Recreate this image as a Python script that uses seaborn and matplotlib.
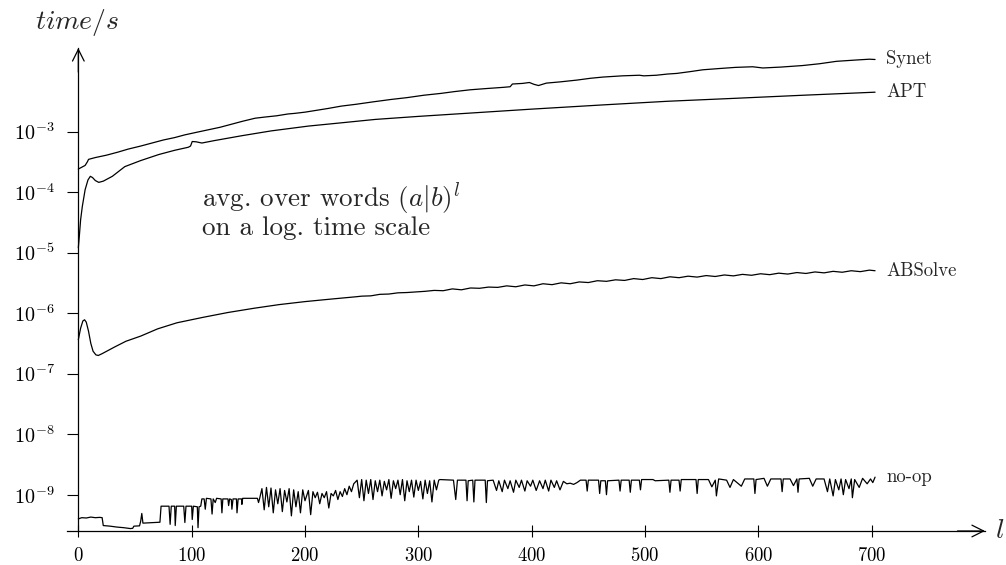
import numpy as np
import pandas as pd
import matplotlib
matplotlib.use("Agg")
import matplotlib.pyplot as plt
from matplotlib.ticker import NullLocator, FixedLocator
import seaborn as sns

# word length l and log10(time/s)
synet_l = [0, 3, 6, 8, 9, 15, 25, 35, 44, 55, 65, 75, 85, 94, 105, 115, 125, 135, 145, 156,
           165, 175, 185, 191, 200, 210, 220, 232, 245, 260, 276, 290, 305, 320, 332, 346,
           360, 375, 381, 383, 392, 398, 402, 406, 413, 425, 440, 452, 463, 480, 495, 499,
           510, 520, 528, 540, 551, 565, 580, 595, 604, 620, 639, 654, 669, 685, 698, 703]
synet_e = [-3.62, -3.59, -3.56, -3.50, -3.46, -3.43, -3.39, -3.34, -3.29, -3.24, -3.19, -3.14,
           -3.10, -3.055, -3.01, -2.97, -2.93, -2.88, -2.83, -2.78, -2.76, -2.74, -2.71, -2.70,
           -2.68, -2.65, -2.62, -2.58, -2.55, -2.51, -2.47, -2.44, -2.40, -2.37, -2.34, -2.31,
           -2.29, -2.27, -2.26, -2.215, -2.205, -2.19, -2.22, -2.24, -2.20, -2.18, -2.15, -2.12,
           -2.10, -2.08, -2.07, -2.08, -2.07, -2.05, -2.04, -2.01, -1.98, -1.96, -1.94, -1.93,
           -1.95, -1.935, -1.91, -1.88, -1.84, -1.82, -1.805, -1.81]

apt_l = [0, 1, 2, 3.5, 6, 8.5, 10.6, 12.5, 15, 18, 22, 30, 41, 55, 71, 85, 97, 99, 100.5, 104,
         109, 120, 144, 170, 203, 230, 262, 300, 350, 400, 463, 520, 581, 640, 703]
apt_e = [-4.92, -4.70, -4.46, -4.24, -3.96, -3.80, -3.74, -3.76, -3.81, -3.84, -3.82, -3.74,
         -3.58, -3.48, -3.38, -3.31, -3.26, -3.24, -3.165, -3.17, -3.19, -3.15, -3.07, -2.99,
         -2.91, -2.86, -2.80, -2.75, -2.69, -2.63, -2.56, -2.50, -2.45, -2.40, -2.35]

absolve_l = [0, 2, 4, 5.5, 7, 9, 11, 13, 15.5, 17.6, 21, 26, 32, 42, 55, 70, 87, 110, 132, 155,
             177, 200, 222, 245, 250, 258, 266, 274, 282, 290, 298, 306, 314, 322, 330, 338,
             346, 354, 362, 370, 378, 386, 394, 402, 410, 418, 426, 434, 442, 450, 458, 466,
             474, 482, 490, 498, 506, 514, 522, 530, 538, 546, 554, 562, 570, 578, 586, 594,
             602, 610, 618, 626, 634, 642, 650, 658, 666, 674, 682, 690, 698, 703]
absolve_e = [-6.44, -6.25, -6.13, -6.11, -6.15, -6.30, -6.50, -6.63, -6.69, -6.70, -6.67, -6.62,
             -6.56, -6.465, -6.38, -6.26, -6.16, -6.07, -5.99, -5.92, -5.86, -5.81, -5.77, -5.73,
             -5.72, -5.715, -5.69, -5.685, -5.665, -5.66, -5.65, -5.64, -5.625, -5.63, -5.60,
             -5.615, -5.585, -5.59, -5.57, -5.575, -5.55, -5.565, -5.535, -5.55, -5.515, -5.53,
             -5.50, -5.515, -5.485, -5.495, -5.465, -5.475, -5.45, -5.46, -5.43, -5.445, -5.415,
             -5.43, -5.40, -5.415, -5.39, -5.405, -5.38, -5.395, -5.37, -5.385, -5.36, -5.375,
             -5.35, -5.365, -5.34, -5.355, -5.33, -5.345, -5.32, -5.335, -5.31, -5.325, -5.30,
             -5.315, -5.29, -5.30]

noop_l = [0, 3, 7, 11, 15, 19, 21, 22, 28, 34, 40, 46, 48, 49, 54, 55, 56, 57, 62, 68, 72, 73,
          80, 81, 82, 85, 85.5, 86.5, 93, 94, 95, 100, 100.5, 101.5, 105, 105.6, 106.5, 108,
          109, 111, 112, 113, 117, 118, 119, 120.8, 122, 126, 126.7, 127.5, 132, 132.6, 133.5,
          135, 135.5, 136.5, 139.5, 140, 141, 144, 144.3, 145, 158, 159, 160,
          162, 164, 166, 168, 170, 172, 174, 176, 178, 180, 182, 184, 186, 188, 190, 192, 194,
          196, 198, 200, 203, 205, 207, 209, 211, 213, 215, 217, 219, 221, 223, 225, 227, 229,
          231, 233, 235, 237, 239, 241, 243, 245, 246, 248, 250, 252, 254, 256, 258, 260, 262,
          264, 266, 268, 270, 272, 274, 276, 278, 280, 282, 284, 286, 288, 290, 292, 294, 296,
          298, 300, 302, 304, 306, 308, 310, 312, 314, 316, 318, 319, 331, 333, 334.5, 342,
          343, 344, 348, 349, 350, 359, 360, 361, 366, 369, 371, 374, 376, 379, 381, 384, 386,
          389, 391, 394, 396, 399, 401, 404, 407, 410, 412, 415, 417, 420, 422, 425, 428, 431,
          434, 437, 440, 443, 448, 449, 450, 459, 460, 461, 465, 466, 467, 477, 478, 479, 486,
          487, 488, 495, 496, 497, 507, 509, 521, 522, 523, 530, 531, 532, 545, 546, 547, 556,
          559, 562, 563, 565, 572, 575, 578, 585, 588, 596, 597, 598, 605, 608, 611, 620, 621,
          622, 628, 631, 634, 635, 636, 645, 648, 651, 658, 661, 663, 666, 668, 671, 673, 675,
          677, 680, 682, 683, 685, 689, 692, 696, 699, 701, 703]
noop_e = [-9.40, -9.38, -9.385, -9.37, -9.38, -9.375, -9.38, -9.51, -9.52, -9.535, -9.545, -9.56,
          -9.555, -9.52, -9.515, -9.44, -9.31, -9.47, -9.465, -9.46, -9.455, -9.19,
          -9.19, -9.49, -9.19, -9.19, -9.51, -9.19, -9.19, -9.46, -9.19, -9.19, -9.41, -9.19,
          -9.20, -9.545, -9.20, -9.19,
          -9.07, -9.07, -9.24, -9.06, -9.07, -9.32, -9.07, -9.13, -9.06, -9.07, -9.30, -9.07,
          -9.07, -9.18, -9.07, -9.08, -9.24, -9.07, -9.07, -9.30, -9.07, -9.07, -9.16, -9.06,
          -9.06, -9.13, -9.06,
          -8.90, -9.25, -8.88, -9.20, -8.89, -9.30, -8.92, -9.15, -8.90, -9.28, -8.93, -9.12,
          -8.90, -9.35, -8.92, -9.20, -8.95, -9.30, -8.92, -9.10, -8.93, -9.33, -8.95, -9.05,
          -8.96, -9.15, -8.98, -9.05, -8.95, -9.22, -8.98, -9.02, -8.93, -9.08,
          -8.95, -9.03, -8.90, -9.00, -8.86, -8.95, -8.82, -8.78, -8.76, -9.05, -8.75, -9.10,
          -8.76, -8.98, -8.75, -9.08, -8.77, -8.95, -8.76, -9.02, -8.78, -8.92, -8.75, -9.06,
          -8.77, -8.90, -8.76, -9.00, -8.75, -9.10, -8.77, -8.95, -8.76, -9.04, -8.76, -8.93,
          -8.78, -9.07, -8.76, -8.98, -8.77, -9.12, -8.76, -8.92, -8.76, -8.75, -8.76, -9.08,
          -8.76, -8.76, -9.10, -8.77, -8.76, -9.12, -8.76, -8.76, -9.13, -8.77, -8.76, -8.93,
          -8.77, -8.95, -8.76, -8.90, -8.77, -8.96, -8.76, -8.88, -8.76, -8.94, -8.77, -8.86,
          -8.76, -8.93, -8.77, -8.90, -8.76, -8.94, -8.76, -8.88, -8.77, -8.92, -8.78, -8.82,
          -8.81, -8.83, -8.80, -8.76, -8.76, -8.94, -8.76, -8.76, -8.98, -8.77, -8.77, -9.00,
          -8.77, -8.76, -8.94, -8.76, -8.76, -8.96, -8.76, -8.76, -8.92, -8.75, -8.75, -8.77,
          -8.76, -8.96, -8.76, -8.76, -8.94, -8.75, -8.75, -8.98, -8.75, -8.75, -8.87, -8.76,
          -9.02, -8.74, -8.76, -8.88, -8.75, -8.86, -8.74, -8.74, -8.98, -8.75, -8.73, -8.86,
          -8.74, -8.74, -8.95, -8.74, -8.74, -8.85, -8.74, -8.96, -8.74, -8.73, -8.86, -8.74,
          -8.74, -8.95, -8.74, -9.02, -8.75, -8.92, -8.74, -9.00, -8.75, -8.90, -8.74, -9.05,
          -8.75, -8.88, -8.73, -8.82, -8.74, -8.80, -8.71]

series = [("Synet", synet_l, synet_e), ("APT", apt_l, apt_e),
          ("ABSolve", absolve_l, absolve_e), ("no-op", noop_l, noop_e)]

sns.set_theme(style="white")
plt.rcParams["font.family"] = ["cmr10"]
plt.rcParams["mathtext.fontset"] = "cm"
plt.rcParams["axes.formatter.use_mathtext"] = True
plt.rcParams["axes.unicode_minus"] = False

fig = plt.figure(figsize=(10.06, 5.65), dpi=100)
ax = fig.add_axes([67 / 1006, 34 / 565, 918 / 1006, 483 / 565])

for name, l, e in series:
    df = pd.DataFrame({"l": l, "t": 10.0 ** np.array(e)})
    sns.lineplot(data=df, x="l", y="t", ax=ax, color="black", lw=0.9,
                 estimator=None, sort=False)
    ax.text(713, df["t"].iloc[-1], name, fontsize=13.5, va="center", ha="left")

ax.set_yscale("log")
ax.set_xlim(-10, 800)
ax.set_ylim(10 ** -9.6, 10 ** -1.62)
ax.xaxis.set_major_locator(FixedLocator([0, 100, 200, 300, 400, 500, 600, 700]))
ax.yaxis.set_major_locator(FixedLocator([1e-9, 1e-8, 1e-7, 1e-6, 1e-5, 1e-4, 1e-3]))
ax.yaxis.set_minor_locator(NullLocator())
ax.set_xlabel("")
ax.set_ylabel("")

for s in ["top", "right"]:
    ax.spines[s].set_visible(False)
ax.spines["left"].set_position(("data", 0))
for s in ["left", "bottom"]:
    ax.spines[s].set_color("black")
    ax.spines[s].set_linewidth(0.9)

ax.tick_params(axis="y", left=True, direction="out", length=8, width=0.8,
               color="black", labelcolor="black", labelsize=14.5, pad=9)
ax.tick_params(axis="x", bottom=True, direction="inout", length=9, width=0.8,
               color="black", labelcolor="black", labelsize=13.5, pad=7)

# arrow heads on the axes
arrow = dict(arrowstyle="->,head_length=0.7,head_width=0.35", lw=0.9, color="black",
             shrinkA=0, shrinkB=0)
ax.annotate("", xy=(1, 0), xytext=(0.97, 0), xycoords="axes fraction",
            textcoords="axes fraction", arrowprops=arrow)
ax.annotate("", xy=(0, 1), xytext=(0, 0.95), xycoords=("data", "axes fraction"),
            textcoords=("data", "axes fraction"), arrowprops=arrow)

fig.text(77 / 1006, 1 - 29 / 565, r"$time/s$", fontsize=20, ha="center", va="baseline")
fig.text(995 / 1006, 1 - 531 / 565, r"$l$", fontsize=20, ha="left", va="center")
fig.text(202 / 1006, 1 - 207 / 565, r"avg. over words $(a|b)^l$", fontsize=19.5,
         va="baseline")
fig.text(202 / 1006, 1 - 235 / 565, "on a log. time scale", fontsize=19.5, va="baseline")

fig.savefig("out.png", dpi=100)
